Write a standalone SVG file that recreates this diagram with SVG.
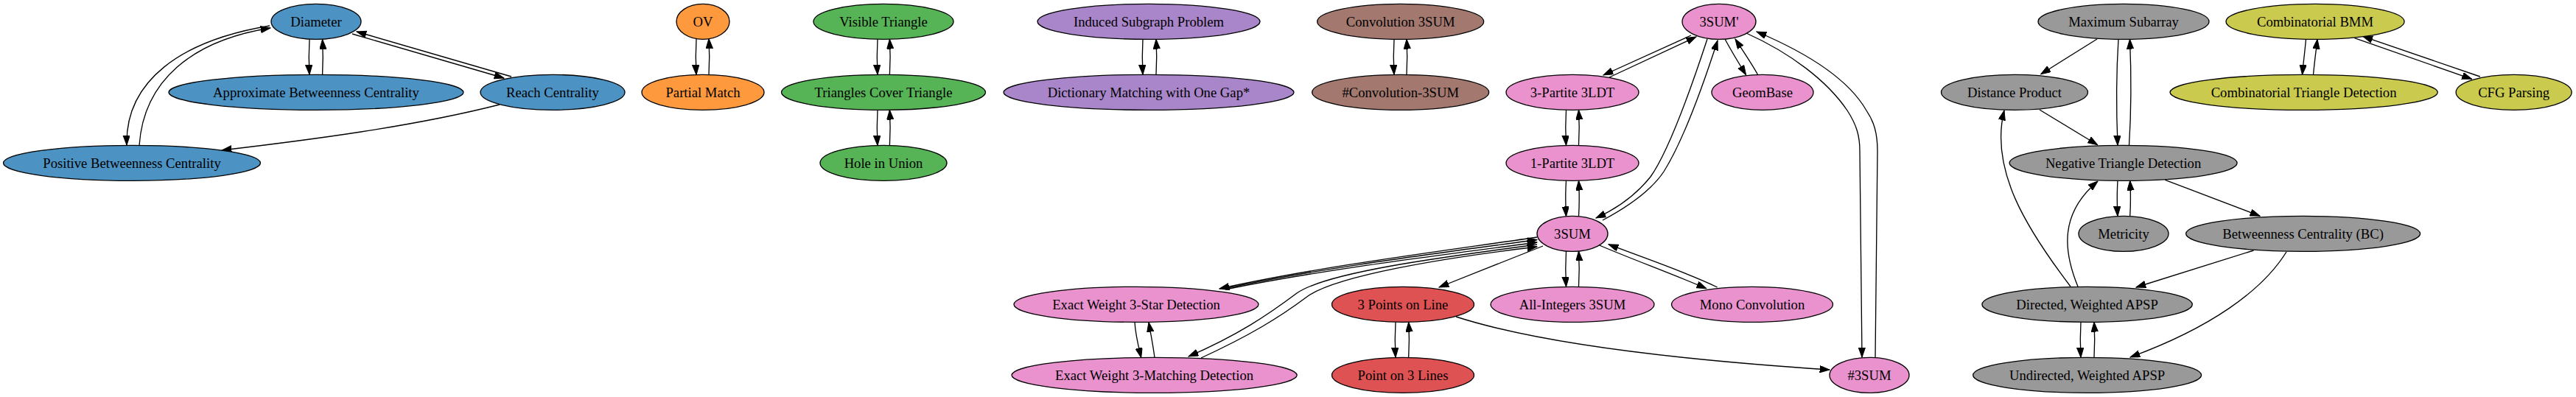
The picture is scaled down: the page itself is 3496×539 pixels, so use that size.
<svg xmlns="http://www.w3.org/2000/svg" width="3496" height="539" viewBox="0 0 3496 539">
<style>
.n ellipse{stroke:#000;stroke-width:1.33}
.n text{font-family:"Liberation Serif","Times New Roman",serif;font-size:18.67px;text-anchor:middle;fill:#000}
.blue{fill:#4c92c3}.orange{fill:#ff993e}.green{fill:#56b356}.purple{fill:#a985ca}.brown{fill:#a3786f}.pink{fill:#e992ce}.red{fill:#de5253}.gray{fill:#999999}.olive{fill:#c9ca4e}
#edges path{fill:none;stroke:#000;stroke-width:1.33;marker-end:url(#ah)}
</style>
<defs>
<marker id="ah" markerUnits="userSpaceOnUse" markerWidth="14" markerHeight="10" refX="13.3" refY="4.67" orient="auto">
<path d="M0,0 L13.3,4.67 L0,9.33 Z" fill="#000" stroke="#000" stroke-width="1"/>
</marker>
</defs>
<rect width="3496" height="539" fill="#fff"/>
<g id="edges">
<!-- blue -->
<path d="M420,53.5 C419,70 419,85 420,101.3"/>
<path d="M437.6,101.3 C438.5,85 438.5,70 437.6,53.5"/>
<path d="M366,35 C245,55 170,110 172,197"/>
<path d="M189,197.5 C195,110 260,55 367,38"/>
<path d="M478,46 L684,106"/>
<path d="M694,104 L484,43"/>
<path d="M678,142 C560,172 420,190 301,204"/>
<!-- orange -->
<path d="M945,52.5 C944,70 944,85 945,101.5"/>
<path d="M962,101.5 C963,85 963,70 962,52.5"/>
<!-- green -->
<path d="M1191,53.3 C1190,70 1190,85 1191,101.3"/>
<path d="M1207.4,101.3 C1208.4,85 1208.4,70 1207.4,53.3"/>
<path d="M1191,149.3 C1190,166 1190,181 1191,197.5"/>
<path d="M1207.4,197.5 C1208.4,181 1208.4,166 1207.4,149.3"/>
<!-- purple -->
<path d="M1551,53.3 C1550,70 1550,85 1551,101.3"/>
<path d="M1569,101.3 C1570,85 1570,70 1569,53.3"/>
<!-- brown -->
<path d="M1892,53.3 C1891,70 1891,85 1892,101.3"/>
<path d="M1909,101.3 C1910,85 1910,70 1909,53.3"/>
<!-- pink -->
<path d="M2295,48 L2176,102"/>
<path d="M2184,105 L2302,50"/>
<path d="M2341,53 C2350,70 2360,86 2369.6,101.7"/>
<path d="M2385.7,101.7 C2377,86 2366,70 2355,53"/>
<path d="M2317,53 C2295,120 2265,205 2240,240 C2220,265 2195,283 2166,296"/>
<path d="M2175,299 C2205,283 2240,260 2258,233 C2285,190 2310,120 2331,55"/>
<path d="M2370,45 C2430,72 2480,110 2507,150 C2520,170 2524,185 2524,205 L2527,485"/>
<path d="M2545,486 L2548,205 C2548,180 2543,165 2533,150 C2510,110 2460,75 2384,43"/>
<path d="M2125.5,149.3 C2124.5,166 2124.5,181 2125.5,197.3"/>
<path d="M2142.5,197.3 C2143.5,181 2143.5,166 2142.5,149.3"/>
<path d="M2125.5,245.3 C2124.5,262 2124.5,277 2125.5,293.7"/>
<path d="M2142.5,293.7 C2143.5,277 2143.5,262 2142.5,245.3"/>
<path d="M2094,334 L1953,390"/>
<path d="M2125.5,341 C2124.5,358 2124.5,373 2125.5,389.3"/>
<path d="M2142.5,389.3 C2143.5,373 2143.5,358 2142.5,341"/>
<path d="M2170.6,333 C2215,352 2270,372 2315.8,391.7"/>
<path d="M2330.7,390 C2285,368 2230,350 2183,331.7"/>
<path d="M2086,322 C1950,342 1790,362 1655,392"/>
<path d="M1659,392.5 C1790,364 1950,344 2086,325.5"/>
<path d="M1663,393 C1795,366 1950,347 2086,329"/>
<path d="M2086,332 C1950,350 1800,370 1760,398 C1720,428 1680,455 1613,484"/>
<path d="M1630,486 C1695,456 1735,432 1775,402 C1815,374 1960,350 2086,335"/>
<path d="M1540,437.5 C1541,455 1545,470 1548.7,485.5"/>
<path d="M1567,485.5 C1565,470 1562,455 1559,437.5"/>
<path d="M1894,437.3 C1893,454 1893,469 1894,485.3"/>
<path d="M1911.7,485.3 C1912.7,469 1912.7,454 1911.7,437.3"/>
<path d="M1976,430 C2100,470 2300,490 2483,502"/>
<!-- gray -->
<path d="M2846,53 L2769.7,100.7"/>
<path d="M2875,53.3 C2872,100 2872,150 2874,197.3"/>
<path d="M2889.5,197.3 C2892.5,150 2892.5,100 2890.5,53.3"/>
<path d="M2768,149 L2846.7,196.7"/>
<path d="M2874,245.3 C2873,262 2873,277 2874,293.5"/>
<path d="M2890.7,293.5 C2891.7,277 2891.7,262 2890.7,245.3"/>
<path d="M2938.4,244.3 L3067,293.3"/>
<path d="M3058.5,340 L2899,390"/>
<path d="M3103,342 C3070,395 3000,445 2891,485"/>
<path d="M2810,389 C2750,310 2700,230 2720,150"/>
<path d="M2820,389 C2800,340 2795,290 2847,246"/>
<path d="M2824,437.3 C2823,454 2823,469 2824,485.3"/>
<path d="M2842,485.3 C2843,469 2843,454 2842,437.3"/>
<!-- olive -->
<path d="M3129.5,53.3 C3128,70 3126,85 3124.5,101.3"/>
<path d="M3139.5,101.3 C3141,85 3143,70 3145,53.3"/>
<path d="M3195.4,51.7 L3354.6,107.3"/>
<path d="M3365.8,104 L3206.6,49.3"/>
</g>
<g id="n_diameter" class="n"><ellipse class="blue" cx="429" cy="29.33" rx="61" ry="24"/><text x="429" y="35.8">Diameter</text></g>
<g id="n_approx_bc" class="n"><ellipse class="blue" cx="429" cy="125.33" rx="200" ry="24"/><text x="429" y="131.8">Approximate Betweenness Centrality</text></g>
<g id="n_reach" class="n"><ellipse class="blue" cx="750" cy="125.33" rx="98" ry="24"/><text x="750" y="131.8">Reach Centrality</text></g>
<g id="n_pos_bc" class="n"><ellipse class="blue" cx="179" cy="221.33" rx="174.5" ry="24"/><text x="179" y="227.8">Positive Betweenness Centrality</text></g>
<g id="n_ov" class="n"><ellipse class="orange" cx="954" cy="29.33" rx="36" ry="24"/><text x="954" y="35.8">OV</text></g>
<g id="n_partial_match" class="n"><ellipse class="orange" cx="954" cy="125.33" rx="83" ry="24"/><text x="954" y="131.8">Partial Match</text></g>
<g id="n_visible_triangle" class="n"><ellipse class="green" cx="1199" cy="29.33" rx="95" ry="24"/><text x="1199" y="35.8">Visible Triangle</text></g>
<g id="n_tct" class="n"><ellipse class="green" cx="1199" cy="125.33" rx="138.5" ry="24"/><text x="1199" y="131.8">Triangles Cover Triangle</text></g>
<g id="n_hole" class="n"><ellipse class="green" cx="1199" cy="221.33" rx="86" ry="24"/><text x="1199" y="227.8">Hole in Union</text></g>
<g id="n_induced" class="n"><ellipse class="purple" cx="1559" cy="29.33" rx="151" ry="24"/><text x="1559" y="35.8">Induced Subgraph Problem</text></g>
<g id="n_dict" class="n"><ellipse class="purple" cx="1559" cy="125.33" rx="197" ry="24"/><text x="1559" y="131.8">Dictionary Matching with One Gap*</text></g>
<g id="n_conv3sum" class="n"><ellipse class="brown" cx="1900.7" cy="29.33" rx="113" ry="24"/><text x="1900.7" y="35.8">Convolution 3SUM</text></g>
<g id="n_sharpconv" class="n"><ellipse class="brown" cx="1900.7" cy="125.33" rx="120" ry="24"/><text x="1900.7" y="131.8">#Convolution-3SUM</text></g>
<g id="n_3sumprime" class="n"><ellipse class="pink" cx="2333" cy="29.33" rx="50" ry="24"/><text x="2333" y="35.8">3SUM'</text></g>
<g id="n_3partite" class="n"><ellipse class="pink" cx="2134" cy="125.33" rx="90" ry="24"/><text x="2134" y="131.8">3-Partite 3LDT</text></g>
<g id="n_geombase" class="n"><ellipse class="pink" cx="2392" cy="125.33" rx="69" ry="24"/><text x="2392" y="131.8">GeomBase</text></g>
<g id="n_1partite" class="n"><ellipse class="pink" cx="2134" cy="221.33" rx="90" ry="24"/><text x="2134" y="227.8">1-Partite 3LDT</text></g>
<g id="n_3sum" class="n"><ellipse class="pink" cx="2134" cy="317.33" rx="48" ry="24"/><text x="2134" y="323.8">3SUM</text></g>
<g id="n_3star" class="n"><ellipse class="pink" cx="1542" cy="413.33" rx="166" ry="24"/><text x="1542" y="419.8">Exact Weight 3-Star Detection</text></g>
<g id="n_3points" class="n"><ellipse class="red" cx="1904" cy="413.33" rx="96.5" ry="24"/><text x="1904" y="419.8">3 Points on Line</text></g>
<g id="n_allint" class="n"><ellipse class="pink" cx="2134" cy="413.33" rx="111" ry="24"/><text x="2134" y="419.8">All-Integers 3SUM</text></g>
<g id="n_mono" class="n"><ellipse class="pink" cx="2378" cy="413.33" rx="109.5" ry="24"/><text x="2378" y="419.8">Mono Convolution</text></g>
<g id="n_3matching" class="n"><ellipse class="pink" cx="1566.6" cy="509.33" rx="193.6" ry="24"/><text x="1566.6" y="515.8">Exact Weight 3-Matching Detection</text></g>
<g id="n_point3lines" class="n"><ellipse class="red" cx="1904" cy="509.33" rx="96.5" ry="24"/><text x="1904" y="515.8">Point on 3 Lines</text></g>
<g id="n_sharp3sum" class="n"><ellipse class="pink" cx="2537" cy="509.33" rx="54" ry="24"/><text x="2537" y="515.8">#3SUM</text></g>
<g id="n_maxsub" class="n"><ellipse class="gray" cx="2882" cy="29.33" rx="116" ry="24"/><text x="2882" y="35.8">Maximum Subarray</text></g>
<g id="n_distprod" class="n"><ellipse class="gray" cx="2734" cy="125.33" rx="99.5" ry="24"/><text x="2734" y="131.8">Distance Product</text></g>
<g id="n_ntd" class="n"><ellipse class="gray" cx="2881.6" cy="221.33" rx="154.5" ry="24"/><text x="2881.6" y="227.8">Negative Triangle Detection</text></g>
<g id="n_metricity" class="n"><ellipse class="gray" cx="2882" cy="317.33" rx="61" ry="24"/><text x="2882" y="323.8">Metricity</text></g>
<g id="n_bc" class="n"><ellipse class="gray" cx="3125.6" cy="317.33" rx="159" ry="24"/><text x="3125.6" y="323.8">Betweenness Centrality (BC)</text></g>
<g id="n_dapsp" class="n"><ellipse class="gray" cx="2832.6" cy="413.33" rx="142.7" ry="24"/><text x="2832.6" y="419.8">Directed, Weighted APSP</text></g>
<g id="n_uapsp" class="n"><ellipse class="gray" cx="2832.6" cy="509.33" rx="155" ry="24"/><text x="2832.6" y="515.8">Undirected, Weighted APSP</text></g>
<g id="n_cbmm" class="n"><ellipse class="olive" cx="3142" cy="29.33" rx="121" ry="24"/><text x="3142" y="35.8">Combinatorial BMM</text></g>
<g id="n_ctd" class="n"><ellipse class="olive" cx="3126.6" cy="125.33" rx="181.6" ry="24"/><text x="3126.6" y="131.8">Combinatorial Triangle Detection</text></g>
<g id="n_cfg" class="n"><ellipse class="olive" cx="3411.6" cy="125.33" rx="78.5" ry="24"/><text x="3411.6" y="131.8">CFG Parsing</text></g>
</svg>
